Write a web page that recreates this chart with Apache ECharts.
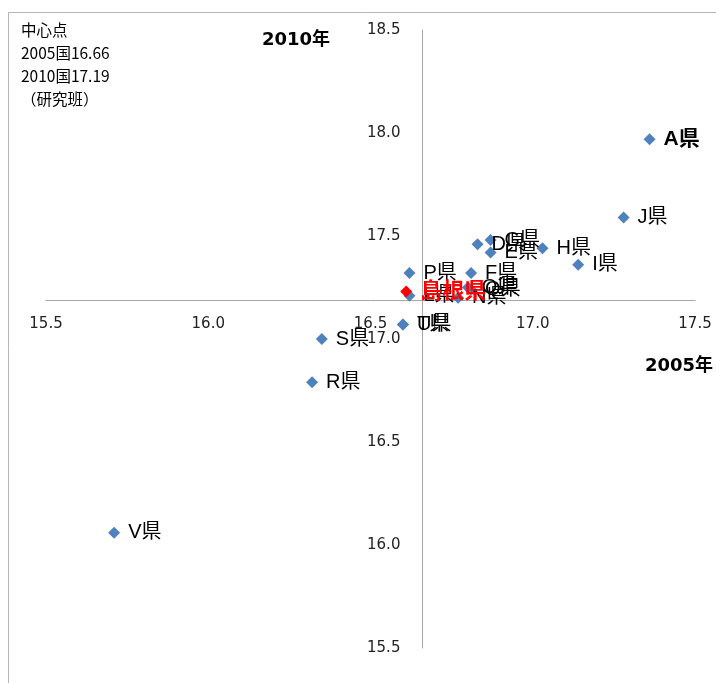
<!DOCTYPE html>
<html>
<head>
<meta charset="utf-8">
<script src="https://cdn.jsdelivr.net/npm/echarts@6/dist/echarts.min.js"></script>
<style>
  html, body { margin: 0; padding: 0; background: #fff; }
  #chart { width: 716px; height: 683px; }
</style>
</head>
<body>
<div id="chart"></div>
<script>
// Prefecture scores: 2005 (x) vs 2010 (y)
const prefNames = ['A県', 'D県', 'G県', 'E県', 'F県', 'H県', 'I県', 'J県', 'L県', 'N県', 'O県', 'P県', 'Q県', 'R県', 'S県', 'T県', 'U県', 'V県'];
const score2005 = [17.36, 16.83, 16.87, 16.87, 16.81, 17.03, 17.14, 17.28, 16.62, 16.77, 16.80, 16.62, 16.81, 16.32, 16.35, 16.60, 16.60, 15.71];
const score2010 = [17.97, 17.46, 17.48, 17.42, 17.32, 17.44, 17.36, 17.59, 17.21, 17.20, 17.25, 17.32, 17.24, 16.79, 17.00, 17.07, 17.07, 16.06];

// Highlighted prefecture
const focusName = '島根県';
const focus2005 = 16.61;
const focus2010 = 17.23;

// Centre point (national values) where the axes cross
const center2005 = 16.66;
const center2010 = 17.19;

// Axis ranges
const xMin = 15.5, xMax = 17.5, yMin = 15.5, yMax = 18.5, step = 0.5;

// Text box
const noteLines = ['中心点', '2005国16.66', '2010国17.19', '（研究班）'];

const W = 716, H = 683;
const grid = { left: 46, right: 21, top: 30, bottom: 35 };
const gridW = W - grid.left - grid.right;
const gridH = H - grid.top - grid.bottom;

// Shift the axes so they cross at the centre point
const xAxisOffset = -((center2010 - yMin) / (yMax - yMin)) * gridH;
const yAxisOffset = -((center2005 - xMin) / (xMax - xMin)) * gridW;

const labelFont = "'Liberation Sans', 'Noto Sans CJK JP', sans-serif";

const mainData = prefNames.map((n, i) => {
  const item = { name: n, value: [score2005[i], score2010[i]] };
  if (n === 'A県') {
    item.label = { fontWeight: 'bold', fontSize: 21 };
  }
  return item;
});

const chart = echarts.init(document.getElementById('chart'), null, { renderer: 'canvas' });

chart.setOption({
  animation: false,
  backgroundColor: '#ffffff',
  grid: { left: grid.left, right: grid.right, top: grid.top, bottom: grid.bottom, containLabel: false },
  xAxis: {
    type: 'value',
    min: xMin, max: xMax, interval: step,
    position: 'bottom',
    offset: xAxisOffset,
    axisLine: { show: true, lineStyle: { color: '#a6a6a6', width: 1 } },
    axisTick: { show: false },
    splitLine: { show: false },
    axisLabel: {
      margin: 17,
      fontSize: 15,
      color: '#222',
      fontFamily: "'DejaVu Sans', sans-serif",
      formatter: v => v.toFixed(1)
    }
  },
  yAxis: {
    type: 'value',
    min: yMin, max: yMax, interval: step,
    position: 'left',
    offset: yAxisOffset,
    axisLine: { show: true, lineStyle: { color: '#a6a6a6', width: 1 } },
    axisTick: { show: false },
    splitLine: { show: false },
    axisLabel: {
      margin: 22,
      fontSize: 15,
      color: '#222',
      fontFamily: "'DejaVu Sans', sans-serif",
      formatter: v => v.toFixed(1)
    }
  },
  series: [
    {
      type: 'scatter',
      symbol: 'diamond',
      symbolSize: 12,
      itemStyle: { color: '#4f81bd', opacity: 1 },
      label: {
        show: true,
        position: 'right',
        distance: 8,
        formatter: p => p.name,
        color: '#000',
        fontSize: 20,
        fontFamily: labelFont
      },
      data: mainData,
      z: 2
    },
    {
      type: 'scatter',
      symbol: 'diamond',
      symbolSize: 12,
      itemStyle: { color: '#ff0000', opacity: 1 },
      label: {
        show: true,
        position: 'right',
        distance: 8,
        formatter: p => p.name,
        color: '#ff0000',
        fontWeight: 'bold',
        fontSize: 22,
        fontFamily: labelFont
      },
      data: [{ name: focusName, value: [focus2005, focus2010] }],
      z: 3
    }
  ],
  graphic: [
    {
      type: 'rect',
      shape: { x: 8.5, y: 12.5, width: 900, height: 900 },
      style: { fill: 'none', stroke: '#b5b5b5', lineWidth: 1 },
      silent: true,
      z: -1
    },
    {
      type: 'text',
      left: 21, top: 19,
      style: {
        text: noteLines.join('\n'),
        fontSize: 15.5,
        lineHeight: 23,
        fill: '#000',
        fontFamily: "'Noto Sans CJK JP', sans-serif"
      }
    },
    {
      type: 'text',
      left: 262, top: 31,
      style: {
        text: '2010年',
        fontSize: 18,
        fontWeight: 'bold',
        fill: '#000',
        fontFamily: "'DejaVu Sans', 'Noto Sans CJK JP', sans-serif"
      }
    },
    {
      type: 'text',
      left: 645, top: 357,
      style: {
        text: '2005年',
        fontSize: 18,
        fontWeight: 'bold',
        fill: '#000',
        fontFamily: "'DejaVu Sans', 'Noto Sans CJK JP', sans-serif"
      }
    }
  ]
});
</script>
</body>
</html>
